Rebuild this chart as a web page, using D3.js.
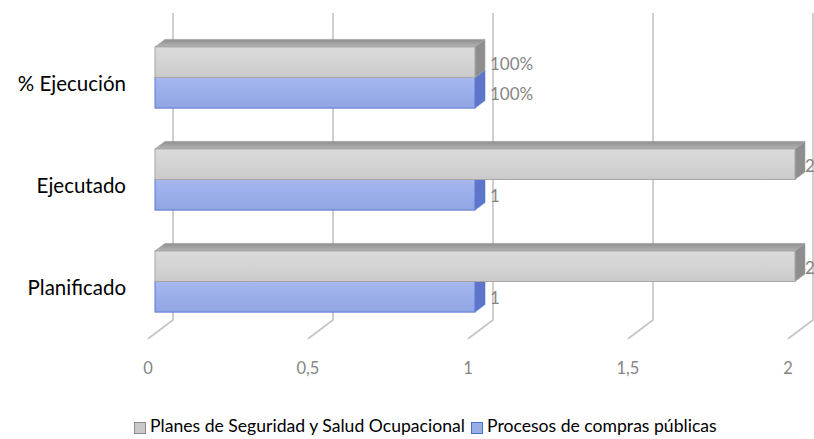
<!DOCTYPE html>
<html>
<head>
<meta charset="utf-8">
<script src="https://d3js.org/d3.v7.min.js"></script>
<style>
    body { margin: 0; background: white; }
    text { font-family: Lato, "Open Sans", sans-serif; }
</style>
</head>
<body>
<svg id="chart" width="814" height="439"></svg>
<script>

var categories = ["% Ejecución", "Ejecutado", "Planificado"];
var seriesNames = ["Planes de Seguridad y Salud Ocupacional", "Procesos de compras públicas"];
var planesValues = [1, 2, 2];
var comprasValues = [1, 1, 1];
var planesLabels = ["100%", "2", "2"];
var comprasLabels = ["100%", "1", "1"];
var xTicks = [0, 0.5, 1, 1.5, 2];
var xTickLabels = ["0", "0,5", "1", "1,5", "2"];

var svg = d3.select("#chart");

// 3d depth: unit vector going "into" the picture
var ddx = 1, ddy = -0.75;
var barDepth = 10, wallDepth = 18, floorDepth = -7;

var x = d3.scaleLinear().domain([0, 2]).range([155, 795]);
var y = d3.scaleBand().domain(categories).range([26.5, 332.5]).paddingInner(0.4).paddingOuter(0.2);
var ySeries = d3.scaleBand().domain([0, 1]).range([0, y.bandwidth()]);
var wallTop = 13, wallBottom = 320;

var defs = svg.append("defs");
function grad(id, stops) {
    var g = defs.append("linearGradient").attr("id", id)
        .attr("x1", 0).attr("y1", 0).attr("x2", 0).attr("y2", 1);
    stops.forEach(function (s) {
        g.append("stop").attr("offset", s[0]).attr("stop-color", s[1]);
    });
}
grad("grayFront", [[0, "#dadada"], [0.5, "#d4d4d4"], [1, "#cacaca"]]);
grad("blueFront", [[0, "#a7b8ee"], [0.5, "#9aaeea"], [1, "#90a5e2"]]);
grad("grayTop", [[0, "#8f8f8f"], [1, "#b3b3b3"]]);

// gridlines on back wall + floor
var grid = svg.append("g");
xTicks.forEach(function (t) {
    var xb = x(t) + wallDepth * ddx;
    var xf = x(t) + floorDepth * ddx;
    var yf = wallBottom + (floorDepth - wallDepth) * ddy;
    grid.append("polyline")
        .attr("points", [[xb, wallTop], [xb, wallBottom], [xf, yf]].join(" "))
        .attr("fill", "none")
        .attr("stroke", "#c4c4c4")
        .attr("stroke-width", 1.6);
});

// x tick labels on the floor front edge
svg.append("g").selectAll("text")
    .data(xTicks)
    .enter()
    .append("text")
    .attr("x", function (d) { return x(d) + floorDepth * ddx; })
    .attr("y", 370)
    .attr("text-anchor", "middle")
    .attr("dominant-baseline", "middle")
    .attr("fill", "#858585")
    .style("font-size", "16.5px")
    .text(function (d, i) { return xTickLabels[i]; });

// category labels
svg.append("g").selectAll("text")
    .data(categories)
    .enter()
    .append("text")
    .attr("x", 126)
    .attr("y", function (d) { return y(d) + y.bandwidth() / 2 + 8; })
    .attr("text-anchor", "end")
    .attr("dominant-baseline", "middle")
    .attr("fill", "#000")
    .style("font-size", "20.5px")
    .text(function (d) { return d; });

function drawBar(g, cat, s, v, front, side, edge, withTop) {
    var x0 = x(0), x1 = x(v);
    var y0 = y(cat) + ySeries(s), h = ySeries.bandwidth();
    var ox = barDepth * ddx, oy = barDepth * ddy;
    if (withTop) {
        g.append("polygon")
            .attr("points", [[x0, y0], [x0 + ox, y0 + oy], [x1 + ox, y0 + oy], [x1, y0]].join(" "))
            .attr("fill", "url(#grayTop)")
            .attr("stroke", "#999")
            .attr("stroke-width", 0.6);
    }
    g.append("polygon")
        .attr("points", [[x1, y0], [x1 + ox, y0 + oy], [x1 + ox, y0 + h + oy], [x1, y0 + h]].join(" "))
        .attr("fill", side)
        .attr("stroke", edge)
        .attr("stroke-width", 0.6);
    g.append("rect")
        .attr("x", x0)
        .attr("y", y0)
        .attr("width", x1 - x0)
        .attr("height", h)
        .attr("fill", front)
        .attr("stroke", edge)
        .attr("stroke-width", 1);
}

var bars = svg.append("g");
categories.forEach(function (c, i) {
    drawBar(bars, c, 1, comprasValues[i], "url(#blueFront)", "#5d76c9", "#5a78d6", false);
    drawBar(bars, c, 0, planesValues[i], "url(#grayFront)", "#8e8e8e", "#a6a6a6", true);
});

// data labels (kept inside the right edge)
var labelData = [];
categories.forEach(function (c, i) {
    labelData.push({ cat: c, s: 0, v: planesValues[i], t: planesLabels[i] });
    labelData.push({ cat: c, s: 1, v: comprasValues[i], t: comprasLabels[i] });
});
svg.append("g").selectAll("text")
    .data(labelData)
    .enter()
    .append("text")
    .attr("x", function (d) { return Math.min(x(d.v) + barDepth * ddx + 5, 805); })
    .attr("y", function (d) { return y(d.cat) + ySeries(d.s) + ySeries.bandwidth() / 2 + 3; })
    .attr("dominant-baseline", "middle")
    .attr("fill", "#858585")
    .style("font-size", "17px")
    .text(function (d) { return d.t; });

// legend
var legend = svg.append("g");
var legendItems = [
    { name: seriesNames[0], x: 134, fill: "#c8c8c8", stroke: "#8c8c8c" },
    { name: seriesNames[1], x: 471, fill: "#9aaee6", stroke: "#4a6fd4" }
];
legendItems.forEach(function (d) {
    legend.append("rect")
        .attr("x", d.x + 0.5).attr("y", 422.5)
        .attr("width", 11).attr("height", 11)
        .attr("fill", d.fill).attr("stroke", d.stroke);
    legend.append("text")
        .attr("x", d.x + 16)
        .attr("y", 428)
        .attr("dominant-baseline", "middle")
        .attr("fill", "#000")
        .style("font-size", "17.6px")
        .text(d.name);
});

</script>
</body>
</html>
